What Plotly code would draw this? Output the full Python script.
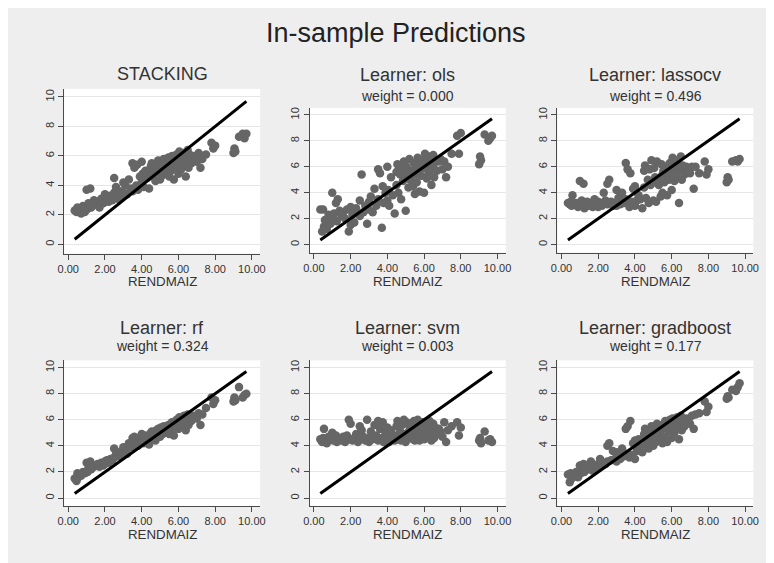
import plotly.graph_objects as go

# ---------------- data ----------------
rendmaiz = [0.35, 0.45, 0.5, 0.55, 0.6, 0.7, 0.8, 0.9, 1.0, 1.05, 1.1, 1.2, 1.25, 1.3, 1.4, 1.5, 1.6, 1.7, 1.8, 1.9,
            2.0, 2.0, 2.1, 2.2, 2.3, 2.4, 2.5, 2.5, 2.6, 2.7, 2.8, 2.9, 3.0, 3.0, 3.1, 3.2, 3.3, 3.4, 3.5, 3.5,
            3.6, 3.7, 3.75, 3.8, 3.9, 4.0, 4.0, 4.05, 4.1, 4.2, 4.3, 4.4, 4.5, 4.5, 4.55, 4.6, 4.7, 4.75, 4.8, 4.85,
            4.9, 5.0, 5.0, 5.05, 5.1, 5.15, 5.2, 5.25, 5.3, 5.4, 5.45, 5.5, 5.5, 5.55, 5.6, 5.65, 5.7, 5.75, 5.8, 5.85,
            5.9, 6.0, 6.0, 6.05, 6.1, 6.15, 6.2, 6.25, 6.3, 6.35, 6.4, 6.5, 6.5, 6.55, 6.6, 6.7, 6.8, 6.9, 7.0, 7.1,
            7.2, 7.3, 7.5, 7.8, 7.9, 8.0, 9.0, 9.05, 9.1, 9.3, 9.5, 9.6, 9.7]

pred_stacking = [2.3, 2.2, 2.5, 2.3, 2.4, 2.1, 2.6, 2.2, 3.7, 2.4, 2.8, 3.8, 2.5, 2.6, 3.0, 2.7, 2.9, 2.5, 3.1, 2.8,
                 3.4, 2.9, 3.2, 2.9, 3.3, 3.0, 4.5, 3.5, 3.9, 3.1, 3.6, 3.3, 4.2, 3.5, 4.0, 3.4, 4.4, 3.8, 5.5, 3.6,
                 5.2, 4.0, 5.4, 3.7, 4.6, 5.6, 4.2, 4.8, 3.9, 5.0, 4.5, 3.8, 5.3, 4.9, 5.5, 4.6, 5.1, 4.3, 5.4, 4.9,
                 5.7, 5.0, 4.4, 5.6, 5.2, 4.7, 5.8, 5.1, 5.4, 4.8, 5.9, 5.3, 4.6, 5.6, 5.0, 6.0, 5.4, 4.4, 5.7, 5.2,
                 6.1, 5.5, 4.8, 6.3, 5.8, 5.1, 6.0, 5.3, 6.2, 5.6, 4.6, 6.4, 5.8, 5.2, 6.1, 5.5, 6.0, 5.9, 5.6, 6.2,
                 5.2, 5.8, 6.1, 6.9, 6.5, 6.7, 6.2, 6.5, 6.3, 7.3, 7.5, 7.2, 7.5]

pred_ols = [2.7, 1.0, 2.7, 1.4, 1.9, 1.2, 2.3, 1.6, 4.0, 2.0, 2.4, 3.2, 1.8, 3.5, 2.6, 2.2, 2.5, 2.0, 2.7, 1.0,
            2.9, 1.5, 2.3, 1.7, 2.8, 2.4, 3.4, 2.2, 5.4, 2.5, 3.0, 1.6, 3.3, 2.7, 3.7, 2.5, 4.3, 3.0, 5.8, 3.5,
            5.5, 1.3, 4.5, 3.2, 4.0, 6.0, 3.4, 4.2, 3.0, 5.2, 3.8, 2.4, 5.6, 4.6, 6.2, 4.0, 5.4, 3.5, 5.8, 4.9,
            6.4, 5.2, 2.6, 6.0, 5.5, 4.4, 6.6, 5.0, 5.7, 4.5, 6.3, 5.4, 3.9, 6.0, 4.8, 6.7, 5.6, 4.1, 6.2, 5.3,
            6.5, 5.9, 4.0, 7.0, 6.3, 5.1, 6.6, 5.5, 6.8, 5.8, 4.6, 6.9, 6.1, 5.2, 6.5, 5.7, 6.4, 6.6, 5.8, 6.4,
            5.2, 6.0, 7.0, 8.4, 7.0, 8.6, 6.2, 6.8, 6.5, 8.5, 8.0, 8.2, 8.4]

pred_lassocv = [3.2, 3.1, 3.3, 3.0, 3.8, 3.1, 3.2, 2.9, 4.9, 3.0, 3.4, 4.7, 2.8, 3.1, 3.3, 3.0, 3.2, 2.9, 3.5, 3.0,
                3.3, 2.9, 3.2, 3.0, 4.0, 3.4, 4.7, 3.1, 5.0, 3.3, 3.0, 3.2, 4.2, 3.0, 3.6, 3.1, 4.0, 3.2, 6.3, 3.5,
                5.8, 2.9, 5.5, 3.3, 4.3, 4.5, 3.0, 4.1, 3.4, 3.8, 3.5, 2.8, 5.7, 4.4, 6.1, 3.6, 5.0, 3.2, 5.8, 4.6,
                6.5, 4.8, 3.4, 5.9, 5.2, 3.3, 6.4, 5.1, 4.6, 3.7, 6.2, 5.4, 4.0, 5.7, 4.8, 6.0, 5.3, 3.8, 5.9, 5.0,
                6.3, 5.5, 4.2, 6.7, 5.8, 4.9, 6.2, 5.3, 6.5, 5.6, 3.2, 6.8, 5.9, 5.0, 6.1, 5.4, 6.0, 5.7, 5.5, 6.0,
                4.3, 6.0, 5.5, 6.4, 5.4, 5.8, 4.8, 5.2, 5.0, 6.4, 6.5, 6.4, 6.6]

pred_rf = [1.5, 1.3, 1.9, 1.6, 1.8, 1.7, 2.0, 1.9, 2.7, 2.0, 2.3, 2.8, 2.2, 2.5, 2.4, 2.5, 2.6, 2.4, 2.7, 2.5,
           2.8, 2.6, 2.9, 2.7, 3.0, 2.9, 3.8, 3.1, 3.4, 3.2, 3.5, 3.3, 3.9, 3.5, 3.8, 3.4, 4.2, 3.9, 4.6, 4.0,
           4.7, 4.2, 4.5, 4.0, 4.4, 4.9, 4.3, 4.6, 4.2, 4.8, 4.5, 4.1, 5.0, 4.7, 5.1, 4.6, 4.9, 4.4, 5.2, 4.8,
           5.3, 5.0, 4.7, 5.4, 5.2, 4.9, 5.5, 5.1, 5.3, 5.0, 5.6, 5.4, 4.9, 5.6, 5.2, 5.8, 5.5, 4.8, 5.8, 5.4,
           6.0, 5.7, 5.3, 6.2, 5.9, 5.5, 6.1, 5.7, 6.3, 5.9, 5.2, 6.4, 6.0, 5.6, 6.2, 5.9, 6.3, 6.2, 6.1, 6.5,
           5.6, 6.4, 6.9, 7.7, 7.2, 7.5, 7.4, 7.7, 7.5, 8.5, 7.7, 7.9, 8.0]

pred_svm = [4.5, 4.3, 4.6, 5.3, 4.4, 4.2, 4.7, 4.5, 5.0, 4.4, 4.6, 4.8, 4.3, 4.5, 4.6, 4.4, 4.7, 4.3, 4.8, 6.0,
            4.5, 5.7, 4.4, 4.6, 4.9, 4.3, 5.5, 4.5, 5.2, 4.7, 4.4, 6.0, 4.6, 4.3, 5.1, 4.5, 5.6, 4.8, 5.9, 4.4,
            5.3, 4.6, 5.8, 4.3, 5.0, 5.4, 4.5, 4.7, 4.3, 5.2, 4.6, 4.4, 5.5, 4.8, 5.9, 4.5, 5.1, 4.4, 5.6, 4.9,
            6.0, 4.7, 4.3, 5.8, 5.0, 4.6, 5.5, 4.8, 5.3, 4.5, 5.9, 5.1, 4.4, 5.6, 4.7, 6.0, 5.2, 4.4, 5.7, 4.9,
            5.8, 5.3, 4.5, 5.6, 5.0, 4.6, 5.5, 4.8, 5.9, 5.2, 4.4, 5.7, 5.0, 4.6, 5.4, 4.9, 5.3, 5.1, 4.7, 5.8,
            4.3, 5.2, 5.5, 5.8, 4.8, 5.4, 4.4, 4.6, 4.2, 5.1, 4.4, 4.5, 4.3]

pred_gradboost = [1.8, 1.2, 1.9, 1.5, 1.7, 1.8, 2.0, 1.6, 2.5, 1.9, 2.1, 2.6, 2.0, 2.4, 2.3, 2.2, 2.8, 2.1, 2.5, 2.3,
                  2.6, 2.4, 3.0, 2.5, 2.7, 2.6, 4.0, 2.8, 4.2, 2.9, 3.6, 3.0, 3.5, 2.8, 3.3, 3.0, 3.8, 3.2, 5.3, 3.4,
                  5.5, 3.1, 5.9, 3.3, 4.2, 4.4, 3.0, 4.0, 3.6, 4.5, 3.9, 3.5, 4.9, 4.6, 5.3, 4.1, 4.8, 3.8, 5.2, 4.4,
                  5.5, 4.7, 4.0, 5.4, 5.0, 4.3, 5.7, 4.9, 5.2, 4.4, 5.6, 5.3, 4.2, 5.5, 4.7, 5.9, 5.4, 4.3, 5.8, 5.1,
                  6.0, 5.5, 4.6, 6.1, 5.7, 5.0, 5.9, 5.3, 6.2, 5.6, 4.5, 6.3, 5.8, 5.2, 6.0, 5.5, 6.1, 5.9, 5.7, 6.3,
                  5.3, 6.4, 6.5, 7.4, 6.6, 7.0, 7.6, 7.8, 7.7, 8.3, 8.2, 8.5, 8.8]

panel_titles = ["STACKING", "Learner: ols", "Learner: lassocv", "Learner: rf", "Learner: svm", "Learner: gradboost"]
panel_weights = [None, "0.000", "0.496", "0.324", "0.003", "0.177"]
main_title = "In-sample Predictions"
x_title = "RENDMAIZ"
x_ticks = [0, 2, 4, 6, 8, 10]
y_ticks = [0, 2, 4, 6, 8, 10]

predictions = [pred_stacking, pred_ols, pred_lassocv, pred_rf, pred_svm, pred_gradboost]

# ---------------- layout geometry (pixels, page coordinates; page body has an 8px margin) ----------------
W, H = 774, 563
OFF = 8
col_px = [(58, 257), (307.5, 506.5), (559, 758)]
row_px = [[(88, 253), (107, 252), (107, 252)], [(360, 506), (360, 506), (360, 506)]]
title_y_px = [[73, 74, 74], [328, 328, 328]]
sub_y_px = [95, 346]
xtitle_y_px = [281, 534]

def fx(px):
    return (px - OFF) / W

def fy(py):
    return 1 - (py - OFF) / H

FONT = "Liberation Sans, Arial, Helvetica, sans-serif"
TXT = "#333333"
AX = "#4a4a4a"

fig = go.Figure()
line_x = sorted(rendmaiz)
line_y = list(line_x)

annotations = []
layout_axes = {}
for i in range(6):
    r, c = divmod(i, 3)
    n = i + 1
    xa = "x" if n == 1 else f"x{n}"
    ya = "y" if n == 1 else f"y{n}"
    fig.add_trace(go.Scatter(x=rendmaiz, y=predictions[i], mode="markers", xaxis=xa, yaxis=ya,
                             marker=dict(color="#666666", size=8.5, line=dict(width=0)), showlegend=False,
                             hoverinfo="x+y"))
    fig.add_trace(go.Scatter(x=line_x, y=line_y, mode="lines", xaxis=xa, yaxis=ya,
                             line=dict(color="black", width=3), showlegend=False, hoverinfo="skip"))
    x0, x1 = col_px[c]
    y0, y1 = row_px[r][c]
    common = dict(showline=True, linecolor=AX, linewidth=1, ticks="outside", ticklen=5, tickcolor=AX,
                  tickwidth=1, zeroline=False, tickfont=dict(family=FONT, size=11, color=TXT))
    layout_axes["xaxis" if n == 1 else f"xaxis{n}"] = dict(
        domain=[fx(x0), fx(x1)], range=[-0.22, 10.45], anchor=ya, tickvals=x_ticks, tickformat=".2f",
        showgrid=False, **common)
    layout_axes["yaxis" if n == 1 else f"yaxis{n}"] = dict(
        domain=[fy(y1), fy(y0)], range=[-0.62, 10.55], anchor=xa, tickvals=y_ticks, tickangle=-90,
        showgrid=True, gridcolor="#e6e6e6", gridwidth=1, **common)
    cx = fx((x0 + x1) / 2)
    annotations.append(dict(text=panel_titles[i], x=cx, y=fy(title_y_px[r][c]), xref="paper", yref="paper",
                            showarrow=False, xanchor="center", yanchor="middle",
                            font=dict(family=FONT, size=18, color=TXT)))
    if panel_weights[i] is not None:
        annotations.append(dict(text=f"weight = {panel_weights[i]}", x=cx, y=fy(sub_y_px[r]), xref="paper",
                                yref="paper", showarrow=False, xanchor="center", yanchor="middle",
                                font=dict(family=FONT, size=14, color=TXT)))
    annotations.append(dict(text=x_title, x=cx, y=fy(xtitle_y_px[r]), xref="paper", yref="paper",
                            showarrow=False, xanchor="center", yanchor="middle",
                            font=dict(family=FONT, size=13.3, color=TXT)))

annotations.append(dict(text=main_title, x=fx(395), y=fy(32), xref="paper", yref="paper", showarrow=False,
                        xanchor="center", yanchor="middle", font=dict(family=FONT, size=27, color="#222222")))

fig.update_layout(width=W, height=H, margin=dict(l=0, r=0, t=0, b=0), paper_bgcolor="#eeeeee",
                  plot_bgcolor="white", annotations=annotations, showlegend=False,
                  font=dict(family=FONT, color=TXT), **layout_axes)

fig.write_html("out.html")
